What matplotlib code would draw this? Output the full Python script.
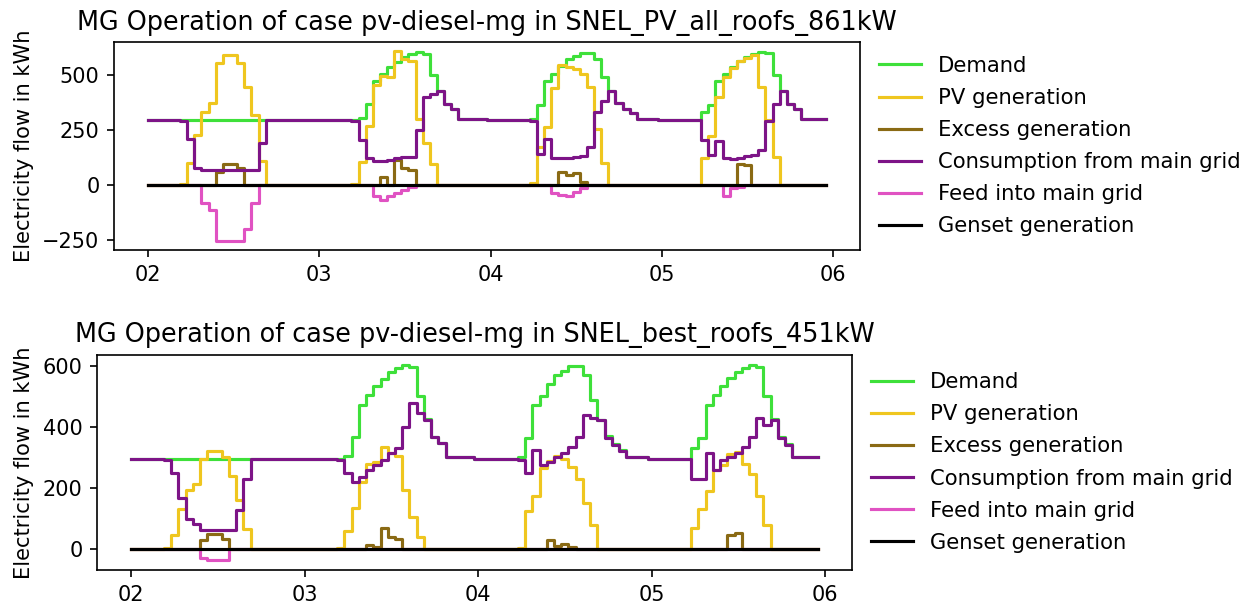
import matplotlib
matplotlib.use('Agg')
import matplotlib.pyplot as plt
import matplotlib.dates as mdates
import pandas as pd

# hourly timestamps, 2nd to 5th day of the month
hours = pd.date_range('2018-01-02 00:00', periods=96, freq='h')

titles = ['MG Operation of case pv-diesel-mg in SNEL_PV_all_roofs_861kW',
          'MG Operation of case pv-diesel-mg in SNEL_best_roofs_451kW']
labels = ['Demand', 'PV generation', 'Excess generation',
          'Consumption from main grid', 'Feed into main grid', 'Genset generation']
colors = ['#3ee03a', '#efc61f', '#8a6a14', '#7d1487', '#e052c2', '#000000']

demand = [
    296, 296, 296, 296, 296, 296, 296, 296, 296, 296, 296, 296, 296, 296, 296, 296, 296, 296, 296, 296, 296, 296, 296, 296,
    296, 296, 296, 296, 296, 296, 305, 367, 470, 505, 535, 556, 578, 592, 603, 595, 500, 425, 368, 346, 300, 300, 300, 300,
    296, 296, 296, 296, 296, 296, 300, 362, 472, 501, 539, 569, 584, 599, 600, 569, 487, 424, 370, 345, 325, 300, 300, 300,
    296, 296, 296, 296, 296, 296, 330, 362, 470, 505, 535, 560, 580, 592, 601, 596, 500, 427, 367, 344, 300, 300, 300, 300]

genset = [
    0, 0, 0, 0, 0, 0, 0, 0, 0, 0, 0, 0, 0, 0, 0, 0, 0, 0, 0, 0, 0, 0, 0, 0,
    0, 0, 0, 0, 0, 0, 0, 0, 0, 0, 0, 0, 0, 0, 0, 0, 0, 0, 0, 0, 0, 0, 0, 0,
    0, 0, 0, 0, 0, 0, 0, 0, 0, 0, 0, 0, 0, 0, 0, 0, 0, 0, 0, 0, 0, 0, 0, 0,
    0, 0, 0, 0, 0, 0, 0, 0, 0, 0, 0, 0, 0, 0, 0, 0, 0, 0, 0, 0, 0, 0, 0, 0]

# ---- case 1: all roofs 861 kW ----
top_pv = [
    0, 0, 0, 0, 0, 6, 98, 225, 330, 370, 554, 591, 591, 554, 445, 315, 110, 0, 0, 0, 0, 0, 0, 0,
    0, 0, 0, 0, 0, 6, 105, 265, 455, 495, 490, 605, 570, 560, 300, 190, 95, 0, 0, 0, 0, 0, 0, 0,
    0, 0, 0, 0, 0, 0, 8, 170, 262, 440, 545, 535, 525, 501, 445, 255, 100, 0, 0, 0, 0, 0, 0, 0,
    0, 0, 0, 0, 0, 0, 122, 220, 400, 487, 531, 561, 576, 591, 445, 295, 127, 0, 0, 0, 0, 0, 0, 0]

top_excess = [
    0, 0, 0, 0, 0, 0, 0, 0, 0, 0, 60, 94, 94, 75, 0, 0, 0, 0, 0, 0, 0, 0, 0, 0,
    0, 0, 0, 0, 0, 0, 0, 0, 0, 37, 0, 112, 75, 67, 0, 0, 0, 0, 0, 0, 0, 0, 0, 0,
    0, 0, 0, 0, 0, 0, 0, 0, 0, 0, 60, 45, 52, 15, 0, 0, 0, 0, 0, 0, 0, 0, 0, 0,
    0, 0, 0, 0, 0, 0, 0, 0, 0, 0, 0, 97, 90, 0, 0, 0, 0, 0, 0, 0, 0, 0, 0, 0]

top_grid = [
    296, 296, 296, 296, 296, 290, 210, 75, 67, 67, 67, 67, 67, 67, 67, 67, 190, 296, 296, 296, 296, 296, 296, 296,
    296, 296, 296, 296, 296, 292, 202, 120, 108, 110, 113, 120, 125, 128, 250, 400, 412, 425, 368, 346, 300, 300, 300, 300,
    296, 296, 296, 296, 296, 296, 292, 142, 210, 120, 120, 122, 125, 130, 172, 329, 382, 424, 370, 345, 325, 300, 300, 300,
    296, 296, 296, 296, 296, 296, 202, 135, 200, 120, 118, 120, 130, 135, 157, 292, 367, 427, 367, 344, 300, 300, 300, 300]

top_feed = [
    0, 0, 0, 0, 0, 0, 0, 0, -82, -112, -252, -252, -252, -252, -200, -82, 0, 0, 0, 0, 0, 0, 0, 0,
    0, 0, 0, 0, 0, 0, 0, 0, -52, -67, -52, -37, -22, -8, 0, 0, 0, 0, 0, 0, 0, 0, 0, 0,
    0, 0, 0, 0, 0, 0, 0, 0, 0, -37, -45, -52, -30, -15, 0, 0, 0, 0, 0, 0, 0, 0, 0, 0,
    0, 0, 0, 0, 0, 0, 0, 0, 0, -52, -15, -8, 0, 0, 0, 0, 0, 0, 0, 0, 0, 0, 0, 0]

# ---- case 2: best roofs 451 kW ----
bot_pv = [
    0, 0, 0, 0, 0, 3, 45, 130, 195, 213, 295, 320, 320, 300, 240, 160, 66, 0, 0, 0, 0, 0, 0, 0,
    0, 0, 0, 0, 0, 3, 60, 135, 220, 280, 285, 335, 315, 305, 195, 105, 40, 0, 0, 0, 0, 0, 0, 0,
    0, 0, 0, 0, 0, 0, 5, 125, 175, 265, 290, 305, 295, 270, 228, 150, 80, 0, 0, 0, 0, 0, 0, 0,
    0, 0, 0, 0, 0, 0, 70, 130, 190, 260, 275, 310, 318, 280, 245, 175, 80, 0, 0, 0, 0, 0, 0, 0]

bot_excess = [
    0, 0, 0, 0, 0, 0, 0, 0, 0, 0, 29, 51, 51, 32, 0, 0, 0, 0, 0, 0, 0, 0, 0, 0,
    0, 0, 0, 0, 0, 0, 0, 0, 0, 13, 8, 68, 40, 35, 0, 0, 0, 0, 0, 0, 0, 0, 0, 0,
    0, 0, 0, 0, 0, 0, 0, 0, 0, 0, 29, 11, 18, 8, 0, 0, 0, 0, 0, 0, 0, 0, 0, 0,
    0, 0, 0, 0, 0, 0, 0, 0, 0, 0, 0, 46, 53, 0, 0, 0, 0, 0, 0, 0, 0, 0, 0, 0]

bot_grid = [
    296, 296, 296, 296, 296, 291, 248, 166, 100, 84, 62, 62, 62, 62, 62, 128, 231, 296, 296, 296, 296, 296, 296, 296,
    296, 296, 296, 296, 296, 291, 248, 220, 237, 259, 275, 291, 313, 330, 400, 477, 444, 422, 368, 346, 302, 302, 302, 302,
    296, 296, 296, 296, 296, 296, 291, 248, 324, 275, 284, 302, 313, 335, 368, 439, 428, 422, 365, 340, 320, 302, 302, 302,
    296, 296, 296, 296, 296, 296, 231, 231, 315, 259, 291, 302, 315, 335, 368, 428, 406, 422, 362, 340, 302, 300, 300, 300]

bot_feed = [
    0, 0, 0, 0, 0, 0, 0, 0, 0, 0, -28, -36, -36, -36, 0, 0, 0, 0, 0, 0, 0, 0, 0, 0,
    0, 0, 0, 0, 0, 0, 0, 0, 0, 0, 0, 0, 0, 0, 0, 0, 0, 0, 0, 0, 0, 0, 0, 0,
    0, 0, 0, 0, 0, 0, 0, 0, 0, 0, 0, 0, 0, 0, 0, 0, 0, 0, 0, 0, 0, 0, 0, 0,
    0, 0, 0, 0, 0, 0, 0, 0, 0, 0, 0, 0, 0, 0, 0, 0, 0, 0, 0, 0, 0, 0, 0, 0]

top_yticks = [-250, 0, 250, 500]
bot_yticks = [0, 200, 400, 600]

W, H = 1258, 606
fig = plt.figure(figsize=(W / 150, H / 150), dpi=150)
ax1 = fig.add_axes([114 / W, 1 - 250 / H, 746 / W, 208 / H])
ax2 = fig.add_axes([97 / W, 1 - 570 / H, 755 / W, 215 / H])

cases = [
    (ax1, titles[0], [demand, top_pv, top_excess, top_grid, top_feed, genset], top_yticks),
    (ax2, titles[1], [demand, bot_pv, bot_excess, bot_grid, bot_feed, genset], bot_yticks),
]

for ax, title, series, yt in cases:
    for vals, lab, col in zip(series, labels, colors):
        ax.plot(hours, vals, drawstyle='steps-mid', color=col, label=lab, lw=1.5)
    ax.set_title(title, fontsize=12.25)
    ax.set_ylabel('Electricity flow in kWh', fontsize=10.1)
    ax.set_yticks(yt)
    ax.xaxis.set_major_locator(mdates.DayLocator())
    ax.xaxis.set_major_formatter(mdates.DateFormatter('%d'))
    ax.legend(loc='center left', bbox_to_anchor=(1, 0.5), frameon=False,
              fontsize=10.15, labelspacing=0.57)

fig.savefig('out.png', dpi=150)
